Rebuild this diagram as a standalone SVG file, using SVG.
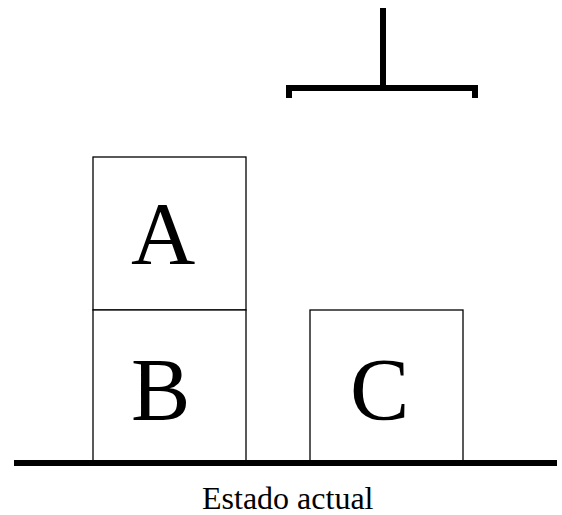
<svg xmlns="http://www.w3.org/2000/svg" width="562" height="515" viewBox="0 0 562 515">
<style>
.box{fill:#fff;stroke:#000;stroke-width:1.3}
.lbl{font-family:'Liberation Serif','Times New Roman',serif;font-size:89px;fill:#000}
.cap{font-family:'Liberation Serif','Times New Roman',serif;font-size:32px;fill:#000}
</style>
<rect width="562" height="515" fill="#fff"/>
<g id="crane" fill="none" stroke="#000" stroke-width="6">
<line x1="383" y1="8" x2="383" y2="88"/>
<polyline points="289,98 289,88 475,88 475,98" stroke-linejoin="miter" stroke-linecap="butt"/>
</g>
<g id="A"><rect class="box" x="93" y="157" width="153" height="153"/><text class="lbl" x="131" y="263">A</text></g>
<g id="B"><rect class="box" x="93" y="310" width="153" height="153"/><text class="lbl" x="131" y="419">B</text></g>
<g id="C"><rect class="box" x="310" y="310" width="153" height="153"/><text class="lbl" x="350" y="419">C</text></g>
<g id="ground"><line x1="14" y1="463" x2="557" y2="463" stroke="#000" stroke-width="6"/></g>
<text class="cap" x="202" y="509">Estado actual</text>
</svg>
